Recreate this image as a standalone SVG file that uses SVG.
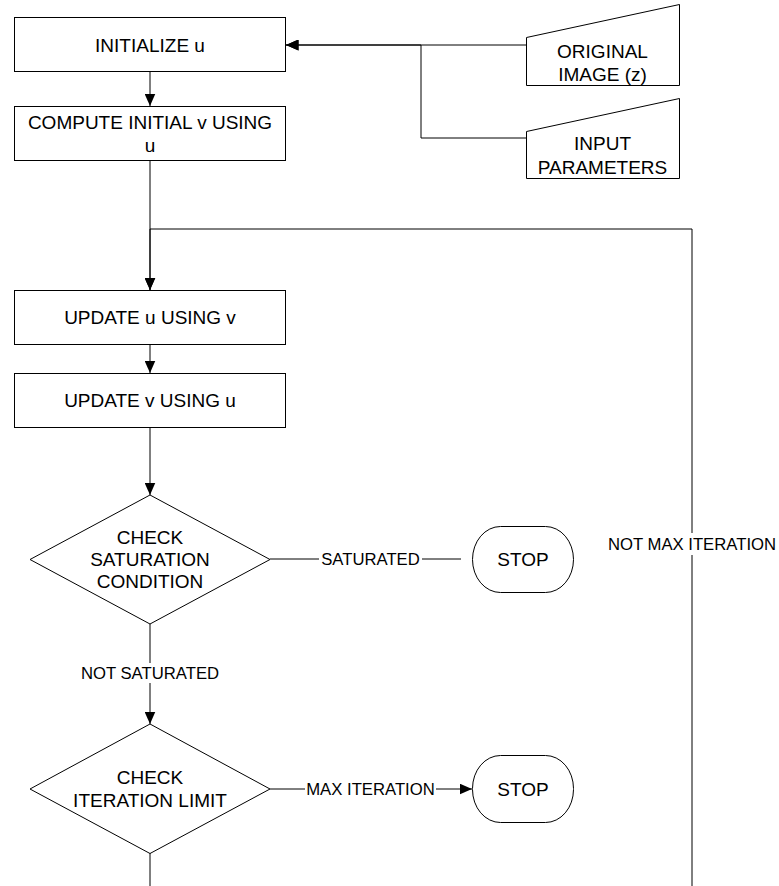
<svg xmlns="http://www.w3.org/2000/svg" width="779" height="886" viewBox="0 0 779 886">
  <style>
    .shape { fill: #fff; stroke: #000; stroke-width: 1; }
    .wire { fill: none; stroke: #000; stroke-width: 1; }
    .t { font-family: "Liberation Sans", Arial, sans-serif; font-size: 19px; fill: #000; text-anchor: middle; }
    .lbl { font-family: "Liberation Sans", Arial, sans-serif; font-size: 16.7px; fill: #000; text-anchor: middle; }
  </style>
  <defs>
    <marker id="arrow" markerUnits="userSpaceOnUse" markerWidth="13" markerHeight="11" refX="12.5" refY="5.5" orient="auto">
      <path d="M0,0 L12.5,5.5 L0,11 z" fill="#000"/>
    </marker>
  </defs>
  <rect width="779" height="886" fill="#fff"/>

  <!-- connectors -->
  <g id="connectors">
    <path class="wire" d="M526,45 H286" marker-end="url(#arrow)"/>
    <path class="wire" d="M526,138 H421 V45 H286" marker-end="url(#arrow)"/>
    <path class="wire" d="M150,72 V106" marker-end="url(#arrow)"/>
    <path class="wire" d="M150,161 V290" marker-end="url(#arrow)"/>
    <path class="wire" d="M692,886 V555 M692,533 V229 H150 V290" marker-end="url(#arrow)"/>
    <path class="wire" d="M150,345 V373" marker-end="url(#arrow)"/>
    <path class="wire" d="M150,428 V495" marker-end="url(#arrow)"/>
    <path class="wire" d="M270,559 H319 M422,559 H461"/>
    <path class="wire" d="M150,624 V663 M150,683 V724" marker-end="url(#arrow)"/>
    <path class="wire" d="M270,789 H305 M436,789 H472" marker-end="url(#arrow)"/>
    <path class="wire" d="M150,853 V886"/>
    <text class="lbl" x="370.5" y="565">SATURATED</text>
    <text class="lbl" x="150" y="679">NOT SATURATED</text>
    <text class="lbl" x="370.5" y="794.5">MAX ITERATION</text>
    <text class="lbl" x="692" y="549.5">NOT MAX ITERATION</text>
  </g>

  <!-- nodes -->
  <g id="init-u">
    <rect class="shape" x="14.5" y="17.5" width="271" height="54"/>
    <text class="t" x="150" y="51.5">INITIALIZE u</text>
  </g>
  <g id="compute-v">
    <rect class="shape" x="14.5" y="106.5" width="271" height="54"/>
    <text class="t" x="150" y="129">COMPUTE INITIAL v USING</text>
    <text class="t" x="150" y="152">u</text>
  </g>
  <g id="original-image">
    <polygon class="shape" points="526.5,37.5 679.5,4.5 679.5,85.5 526.5,85.5"/>
    <text class="t" x="602.5" y="57.5">ORIGINAL</text>
    <text class="t" x="602.5" y="81">IMAGE (z)</text>
  </g>
  <g id="input-parameters">
    <polygon class="shape" points="526.5,131.5 679.5,98.5 679.5,178.5 526.5,178.5"/>
    <text class="t" x="602.5" y="150">INPUT</text>
    <text class="t" x="602.5" y="173.5">PARAMETERS</text>
  </g>
  <g id="update-u">
    <rect class="shape" x="14.5" y="290.5" width="271" height="54"/>
    <text class="t" x="150" y="324">UPDATE u USING v</text>
  </g>
  <g id="update-v">
    <rect class="shape" x="14.5" y="373.5" width="271" height="54"/>
    <text class="t" x="150" y="406.5">UPDATE v USING u</text>
  </g>
  <g id="check-saturation">
    <polygon class="shape" points="150,495 270,559.5 150,624 30,559.5"/>
    <text class="t" x="150" y="544">CHECK</text>
    <text class="t" x="150" y="566">SATURATION</text>
    <text class="t" x="150" y="588">CONDITION</text>
  </g>
  <g id="stop-saturated">
    <rect class="shape" x="472.5" y="526.5" width="101" height="66" rx="28" ry="33"/>
    <text class="t" x="523" y="566">STOP</text>
  </g>
  <g id="check-iteration">
    <polygon class="shape" points="150,724 270,789 150,853.5 30,789"/>
    <text class="t" x="150" y="783.5">CHECK</text>
    <text class="t" x="150" y="807">ITERATION LIMIT</text>
  </g>
  <g id="stop-max">
    <rect class="shape" x="472.5" y="755.5" width="101" height="67" rx="28" ry="33"/>
    <text class="t" x="523" y="795.5">STOP</text>
  </g>
</svg>
